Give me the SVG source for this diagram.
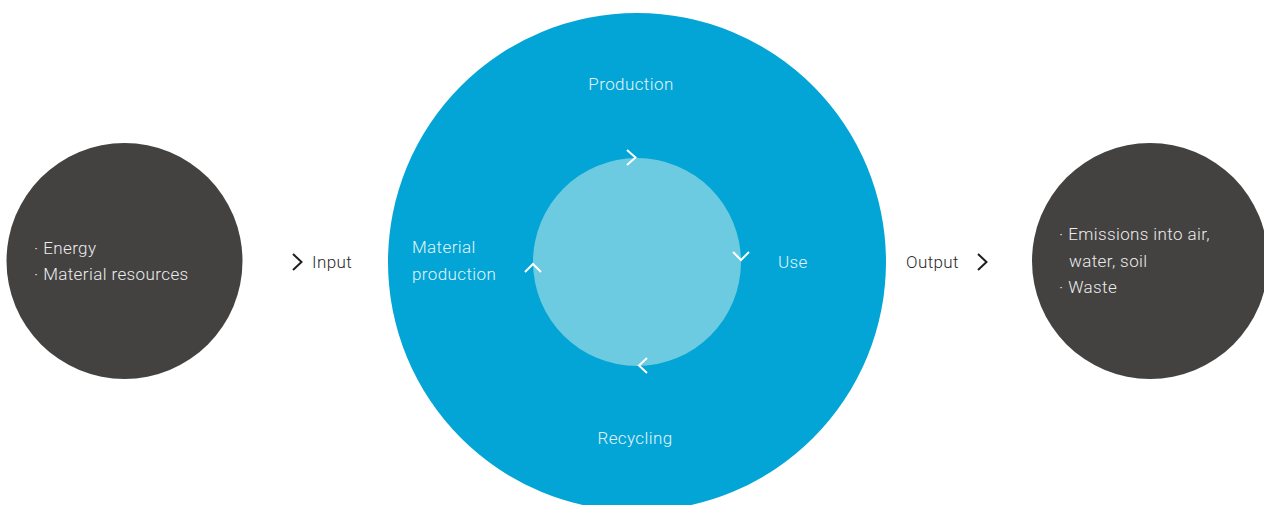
<svg xmlns="http://www.w3.org/2000/svg" width="1264" height="505" viewBox="0 0 1264 505">
<style>
.dark{fill:#434241}
.lbl{font-family:Roboto,"Liberation Sans",sans-serif;font-weight:300;font-size:17px;letter-spacing:0.4px}
.w{fill:#ececec}
.b{fill:#e3f4fa}
.k{fill:#2a2a2a}
.chev{fill:none;stroke:#ffffff;stroke-width:2}
.chevd{fill:none;stroke:#1e1e1e;stroke-width:2}
</style>
<rect width="1264" height="505" fill="#ffffff"/>
<g id="inputs">
<circle class="dark" cx="124.5" cy="261" r="118"/>
<text class="lbl w" x="34" y="254">· Energy</text>
<text class="lbl w" x="34" y="280">· Material resources</text>
</g>
<g id="cycle">
<circle cx="637" cy="262" r="249" fill="#02a5d5"/>
<circle cx="637" cy="262" r="104" fill="#6ccbe0"/>
<text class="lbl b" x="631" y="90" text-anchor="middle">Production</text>
<text class="lbl b" x="778" y="268">Use</text>
<text class="lbl b" x="635" y="444" text-anchor="middle">Recycling</text>
<text class="lbl b" x="412" y="253">Material</text>
<text class="lbl b" x="412" y="280">production</text>
</g>
<g id="outputs">
<circle class="dark" cx="1150" cy="261" r="118"/>
<text class="lbl w" x="1059" y="240">· Emissions into air,</text>
<text class="lbl w" x="1069" y="267">water, soil</text>
<text class="lbl w" x="1059" y="293">· Waste</text>
</g>
<g id="connectors">
<polyline class="chev" points="627,150 635.5,157.5 627,165"/>
<polyline class="chev" points="733,252 741,260 749,252"/>
<polyline class="chev" points="647,358 639,365.5 647,373"/>
<polyline class="chev" points="525,272 533,264 541,272"/>
<polyline class="chevd" points="293,254 301.5,262 293,270"/>
<text class="lbl k" x="312" y="268">Input</text>
<text class="lbl k" x="906" y="268">Output</text>
<polyline class="chevd" points="978,254 986.5,262 978,270"/>
</g>
</svg>
